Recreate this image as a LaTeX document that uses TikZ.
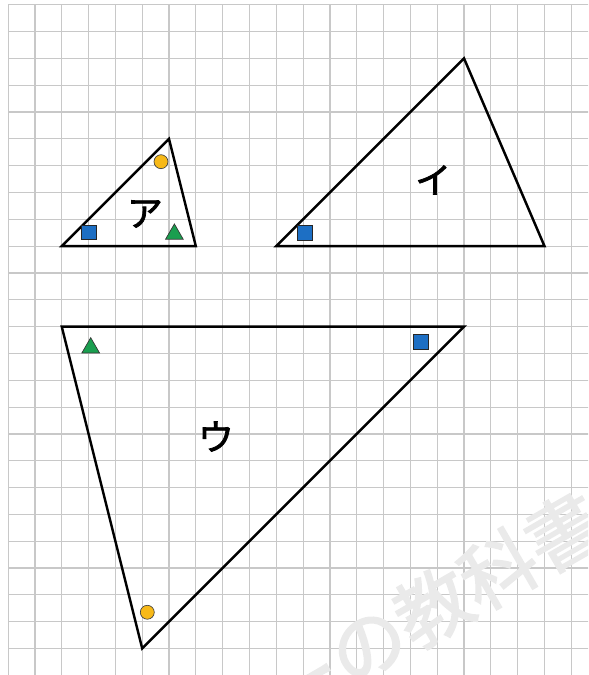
\documentclass[tikz,border=0pt]{standalone}
\usepackage{fontspec}
\newfontfamily\cjkb[FakeBold=2]{Noto Sans CJK JP}
\newfontfamily\cjkw[FakeBold=2]{Noto Sans CJK JP}
\usetikzlibrary{shapes.geometric}
\definecolor{gridgray}{HTML}{C8C8C8}
\definecolor{wmgray}{HTML}{EAEAEA}
\definecolor{mblue}{HTML}{1D6FC4}
\definecolor{myellow}{HTML}{F7B918}
\definecolor{mgreen}{HTML}{1A9E4F}
\begin{document}
\begin{tikzpicture}[x=1cm,y=1cm,
  gridline/.style={draw=gridgray, line width=1.25pt},
  tri/.style={draw=black, line width=2.6pt, line join=miter},
  sqmark/.style={rectangle, fill=mblue, draw=black!85, line width=0.7pt, minimum size=0.55cm, inner sep=0pt},
  cmark/.style={circle, fill=myellow, draw=black!75, line width=0.7pt, minimum size=0.52cm, inner sep=0pt},
  tmark/.style={regular polygon, regular polygon sides=3, fill=mgreen, draw=black!80, line width=0.7pt, minimum size=0.76cm, inner sep=0pt},
  lbl/.style={font=\cjkb\fontsize{38}{38}\selectfont, inner sep=0pt},
  wm/.style={font=\cjkw\fontsize{80}{80}\selectfont, text=wmgray, rotate=30, inner sep=0pt}]
\useasboundingbox (-0.302,0.179) rectangle (21.622,-24.989);
\begin{scope}
\clip (-0.302,0.179) rectangle (21.622,-24.989);
\foreach \i in {0,...,21} \draw[gridline] (\i,0) -- (\i,-25.3);
\foreach \j in {0,...,25} \draw[gridline] (0,-\j) -- (21.8,-\j);
\node[wm] (watermark) at (15.84,-22.45) {ーの教科書};
\end{scope}
% triangle A
\coordinate (a1) at (2,-9);
\coordinate (a2) at (7,-9);
\coordinate (a3) at (6,-5);
\draw[tri] (a1) -- (a2) -- (a3) -- cycle;
% triangle I
\coordinate (i1) at (10,-9);
\coordinate (i2) at (20,-9);
\coordinate (i3) at (17,-2);
\draw[tri] (i1) -- (i2) -- (i3) -- cycle;
% triangle U
\coordinate (u1) at (2,-12);
\coordinate (u2) at (17,-12);
\coordinate (u3) at (5,-24);
\draw[tri] (u1) -- (u2) -- (u3) -- cycle;
% markers
\node[sqmark] (asq) at (3.02,-8.48) {};
\node[cmark] (acirc) at (5.70,-5.85) {};
\node[tmark] (atri) at (6.2,-8.55) {};
\node[sqmark] (isq) at (11.07,-8.5) {};
\node[tmark] (utri) at (3.08,-12.79) {};
\node[sqmark] (usq) at (15.39,-12.58) {};
\node[cmark] (ucirc) at (5.19,-22.65) {};
% labels
\node[lbl] (la) at (5.1,-7.8) {ア};
\node[lbl] (li) at (15.85,-6.53) {イ};
\node[lbl] (lu) at (7.75,-16.1) {ウ};
\end{tikzpicture}
\end{document}
